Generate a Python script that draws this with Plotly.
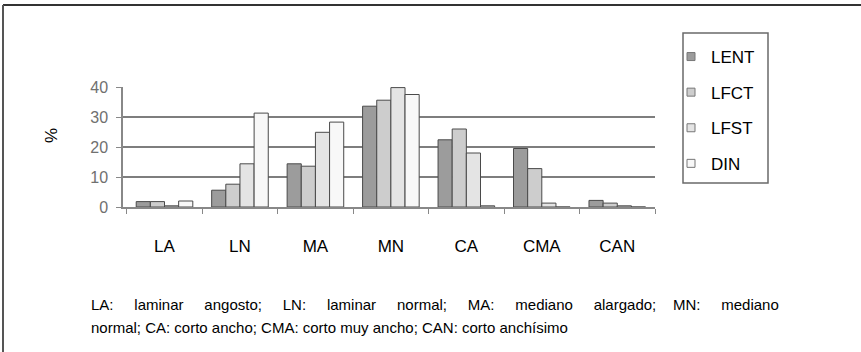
import plotly.graph_objects as go

categories = ["LA", "LN", "MA", "MN", "CA", "CMA", "CAN"]
series_names = ["LENT", "LFCT", "LFST", "DIN"]
lent = [1.8, 5.6, 14.4, 33.6, 22.4, 19.5, 2.2]
lfct = [1.8, 7.6, 13.6, 35.6, 26.0, 12.8, 1.3]
lfst = [0.4, 14.4, 24.9, 39.8, 18.0, 1.3, 0.4]
din = [2.0, 31.3, 28.3, 37.5, 0.4, 0.0, 0.0]
y_ticks = [0, 10, 20, 30, 40]
footnote_line1 = ("LA:     laminar     angosto;     LN:     laminar     normal;     MA:     "
                  "mediano     alargado;    MN:     mediano")
footnote_line2 = "normal; CA: corto ancho; CMA: corto muy ancho; CAN: corto anchísimo"

W, H = 861, 352
L, R, T, B = 123, 655, 87, 207

def px(x):
    return (x - L) / (R - L)

def py(y):
    return (B - y) / (B - T)

colors = ["#9c9c9c", "#cdcdcd", "#e4e4e4", "#f8f8f8"]
FONT = "Liberation Sans, Arial, sans-serif"

fig = go.Figure()
for name, vals, col in zip(series_names, [lent, lfct, lfst, din], colors):
    fig.add_trace(go.Bar(
        x=categories, y=vals, name=name, showlegend=False,
        marker=dict(color=col, line=dict(color="#4a4a4a", width=1)),
    ))
# legend entries with small square swatches
for name, col in zip(series_names, colors):
    fig.add_trace(go.Scatter(
        x=[None], y=[None], mode="markers", name=name, legendgroup=name,
        marker=dict(symbol="square", size=8, color=col, line=dict(color="#777777", width=1)),
    ))

fig.update_layout(
    width=W, height=H,
    margin=dict(l=L, r=W - R, t=T, b=H - B, pad=0),
    paper_bgcolor="white", plot_bgcolor="white",
    barmode="group", bargap=0.25, bargroupgap=0,
    font=dict(family=FONT, color="black", size=16),
    showlegend=True,
    legend=dict(
        x=px(671), y=py(39), xanchor="left", yanchor="top",
        borderwidth=0, bgcolor="rgba(0,0,0,0)",
        font=dict(family=FONT, size=17, color="black"),
        traceorder="grouped", tracegroupgap=10.5,
        itemwidth=30,
    ),
    xaxis=dict(
        range=[-0.55, 6.5], showline=True, linecolor="#888888", linewidth=1.5,
        ticks="outside", ticklen=5, tickcolor="#888888", tickson="boundaries",
        ticklabelstandoff=23, showgrid=False,
        tickfont=dict(family=FONT, size=17, color="black"),
    ),
    yaxis=dict(
        range=[0, 40], tickvals=y_ticks, showline=True, linecolor="#888888", linewidth=1.5,
        ticks="outside", ticklen=5, tickcolor="#888888",
        showgrid=True, gridcolor="#7e7e7e", gridwidth=1.5, zeroline=False,
        ticklabelstandoff=5,
        tickfont=dict(family=FONT, size=16, color="#707070"),
    ),
    shapes=[
        dict(type="line", xref="paper", yref="paper", x0=px(3), x1=px(870), y0=py(5), y1=py(5),
             line=dict(color="#333333", width=2)),
        dict(type="line", xref="paper", yref="paper", x0=px(3), x1=px(3), y0=py(5), y1=py(360),
             line=dict(color="#555555", width=2)),
        dict(type="rect", xref="paper", yref="paper", x0=px(683), x1=px(768), y0=py(33), y1=py(183),
             line=dict(color="#6a6a6a", width=1.5), fillcolor="rgba(0,0,0,0)"),
    ],
    annotations=[
        dict(text="%", xref="paper", yref="paper", x=px(40), y=py(126), showarrow=False,
             textangle=-90, font=dict(family=FONT, size=17)),
        dict(text=footnote_line1, xref="paper", yref="paper", x=px(89), y=py(304),
             xanchor="left", yanchor="middle", showarrow=False,
             font=dict(family=FONT, size=15)),
        dict(text=footnote_line2, xref="paper", yref="paper", x=px(89), y=py(327),
             xanchor="left", yanchor="middle", showarrow=False,
             font=dict(family=FONT, size=15)),
    ],
)

fig.write_html("out.html")
